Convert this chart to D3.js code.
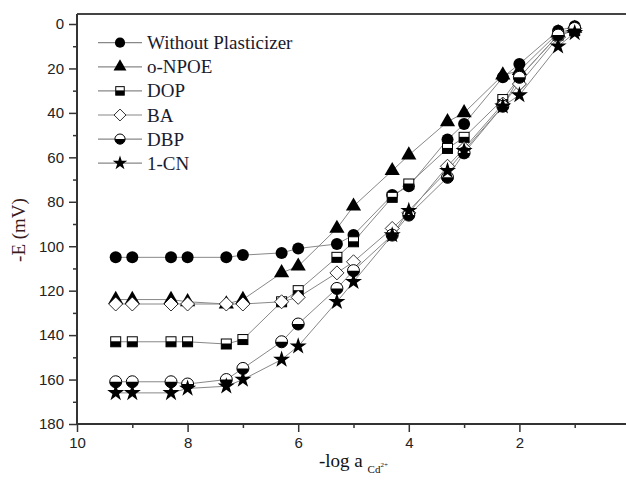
<!DOCTYPE html>
<meta charset="utf-8">
<title>Potential response</title>
<script src="https://d3js.org/d3.v7.min.js"></script>
<style>
  body { margin: 0; background: #fff; }
  .tick text { font-family: Arial, "Liberation Sans", sans-serif; font-size: 15px; fill: #222; }
  .title { font-family: "Times New Roman", "Liberation Serif", serif; fill: #111; }
</style>
<div id="chart"></div>
<script>
// -log a(Cd2+) values
var logA = [9.3, 9, 8.3, 8, 7.3, 7, 6.3, 6, 5.3, 5, 4.3, 4, 3.3, 3, 2.3, 2, 1.3, 1];

var names = ["Without Plasticizer", "o-NPOE", "DOP", "BA", "DBP", "1-CN"];
var shapes = ["circle", "triangle", "square", "diamond", "halfcircle", "star"];

// -E (mV)
var noPlast = [105, 105, 105, 105, 105, 104, 103, 101, 99, 95, 77, 73, 52, 45, 24, 18, 3, 1];
var npoe    = [124, 124, 124, 125, 126, 124, 112, 109, 92, 82, 66, 59, 44, 40, 23, 21, 4, 2];
var dop     = [143, 143, 143, 143, 144, 142, 125, 120, 105, 98, 78, 72, 56, 51, 34, 24, 5, 3];
var ba      = [126, 126, 126, 126, 126, 126, 125, 123, 112, 107, 92, 85, 64, 56, 36, 27, 6, 2];
var dbp     = [161, 161, 161, 162, 160, 155, 143, 135, 119, 111, 95, 86, 69, 58, 37, 24, 5, 2];
var cn      = [166, 166, 166, 164, 163, 160, 151, 145, 125, 116, 95, 84, 66, 57, 37, 32, 10, 4];

var series = [noPlast, npoe, dop, ba, dbp, cn];

var svg = d3.select("#chart").append("svg")
  .attr("width", 626).attr("height", 488);

var x = d3.scaleLinear().domain([10, 0]).range([77, 630]);
var y = d3.scaleLinear().domain([-4.5, 180]).range([14, 424]);

// frame
svg.append("line").attr("x1", 77).attr("x2", 632).attr("y1", 14).attr("y2", 14)
  .attr("stroke", "#444").attr("stroke-width", 2);

// minor ticks
svg.append("g").attr("transform", "translate(77,0)")
  .call(d3.axisLeft(y).tickValues(d3.range(10, 180, 20)).tickSize(4).tickFormat(""))
  .call(function(g) { g.select(".domain").remove(); g.selectAll("line").attr("stroke", "#333").attr("stroke-width", 1.5); });
svg.append("g").attr("transform", "translate(0,424)")
  .call(d3.axisBottom(x).tickValues([9, 7, 5, 3, 1]).tickSize(4).tickFormat(""))
  .call(function(g) { g.select(".domain").remove(); g.selectAll("line").attr("stroke", "#333").attr("stroke-width", 1.5); });

// major axes
var yAxis = svg.append("g").attr("transform", "translate(77,0)")
  .call(d3.axisLeft(y).tickValues(d3.range(0, 181, 20)).tickSize(8).tickPadding(5).tickSizeOuter(0));
var xAxis = svg.append("g").attr("transform", "translate(0,424)")
  .call(d3.axisBottom(x).tickValues([10, 8, 6, 4, 2]).tickSize(8).tickPadding(5).tickSizeOuter(0));
[yAxis, xAxis].forEach(function(g) {
  g.selectAll("line").attr("stroke", "#333").attr("stroke-width", 1.5);
  g.select(".domain").attr("stroke", "#333").attr("stroke-width", 2);
});
yAxis.select(".domain").attr("d", "M0,14V424");
xAxis.select(".domain").attr("d", "M77,0H632");

// marker drawing, k scales the size (legend uses smaller ones)
function marker(g, shape, k) {
  if (shape == "circle") {
    g.append("circle").attr("r", 6 * k).attr("fill", "#000");
  } else if (shape == "triangle") {
    g.append("path").attr("d", d3.symbol().type(d3.symbolTriangle).size(100 * k * k)()).attr("fill", "#000");
  } else if (shape == "square") {
    var s = 5 * k;
    g.append("rect").attr("x", -s).attr("y", -s).attr("width", 2 * s).attr("height", 2 * s)
      .attr("fill", "#fff").attr("stroke", "#000").attr("stroke-width", 1);
    g.append("rect").attr("x", -s).attr("y", -0.5).attr("width", 2 * s).attr("height", s + 0.5).attr("fill", "#000");
  } else if (shape == "diamond") {
    var d = 7 * k;
    g.append("path").attr("d", "M0," + (-d) + "L" + d + ",0L0," + d + "L" + (-d) + ",0Z")
      .attr("fill", "#fff").attr("stroke", "#000").attr("stroke-width", 0.8);
  } else if (shape == "halfcircle") {
    var r = 6 * k;
    g.append("circle").attr("r", r).attr("fill", "#fff").attr("stroke", "#000").attr("stroke-width", 1);
    g.append("path").attr("d", "M" + (-r) + ",0A" + r + "," + r + " 0 0,0 " + r + ",0Z").attr("fill", "#000");
  } else {
    g.append("path").attr("d", d3.symbol().type(d3.symbolStar).size(90 * k * k)()).attr("fill", "#000");
  }
}

var line = d3.line().x(function(d) { return x(d[0]); }).y(function(d) { return y(d[1]); });

series.forEach(function(vals, i) {
  var pts = logA.map(function(a, j) { return [a, vals[j]]; });
  svg.append("path").datum(pts).attr("d", line)
    .attr("fill", "none").attr("stroke", "#888").attr("stroke-width", 1);
});
series.forEach(function(vals, i) {
  logA.forEach(function(a, j) {
    var g = svg.append("g").attr("transform", "translate(" + x(a) + "," + y(vals[j]) + ")");
    marker(g, shapes[i], 1);
  });
});

// legend
names.forEach(function(n, i) {
  var ly = 42.7 + i * 24.1;
  svg.append("line").attr("x1", 98).attr("x2", 142).attr("y1", ly).attr("y2", ly)
    .attr("stroke", "#888").attr("stroke-width", 1.2);
  var g = svg.append("g").attr("transform", "translate(120," + ly + ")");
  marker(g, shapes[i], 0.85);
  svg.append("text").attr("class", "title").attr("x", 147).attr("y", ly + 6.5)
    .style("fill", "#1a1a2e").style("font-size", "19px").text(n);
});

// axis titles
svg.append("text").attr("class", "title")
  .attr("transform", "translate(25,230) rotate(-90)")
  .attr("text-anchor", "middle").style("fill", "#3a1c1c").style("font-size", "19px").text("-E (mV)");

var xt = svg.append("text").attr("class", "title").attr("x", 319).attr("y", 467).style("font-size", "19px");
xt.append("tspan").text("-log a ");
xt.append("tspan").attr("dy", 6).style("font-size", "11px").text("Cd");
xt.append("tspan").attr("dy", -6).style("font-size", "7px").text("2+");
</script>
